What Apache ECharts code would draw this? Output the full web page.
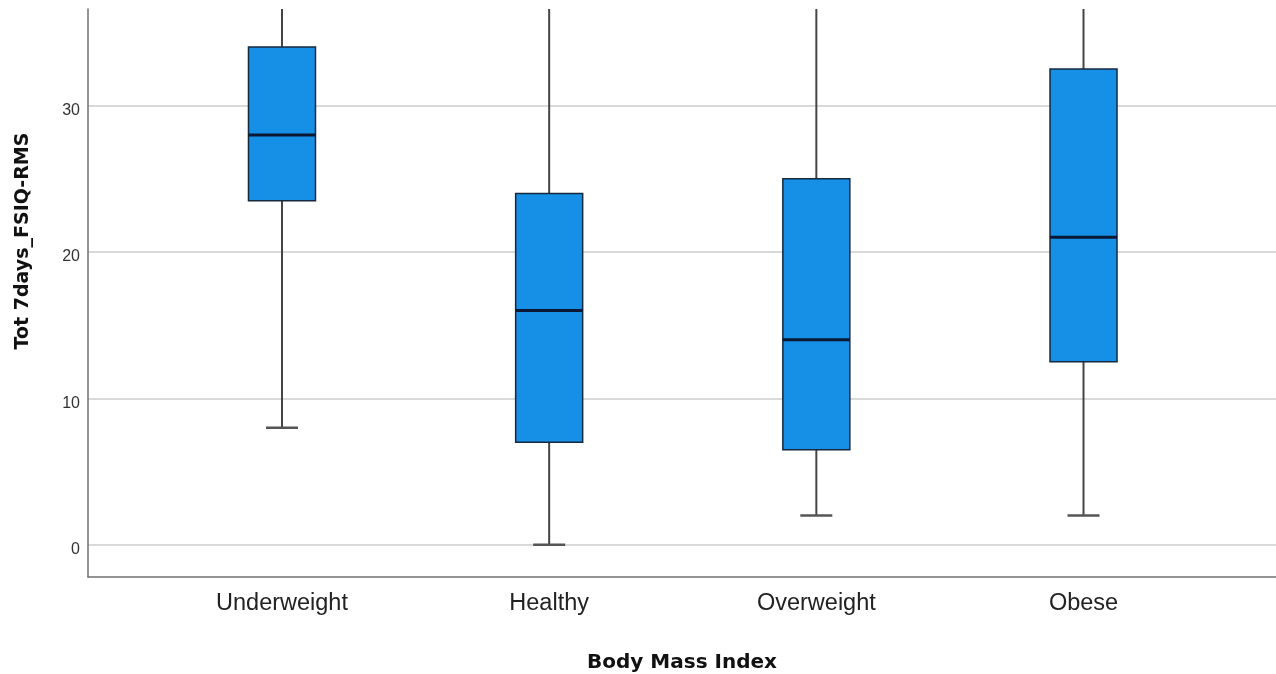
<!DOCTYPE html>
<html>
<head>
<meta charset="utf-8">
<script src="https://cdn.jsdelivr.net/npm/echarts@6/dist/echarts.min.js"></script>
<style>
  html, body { margin: 0; padding: 0; background: #fff; }
  #chart_bmi_box { width: 1276px; height: 674px; }
</style>
</head>
<body>
<div id="chart_bmi_box"></div>
<script>
  // boxplot stats (upper whiskers run past the top edge)
  const categories = ['Underweight', 'Healthy', 'Overweight', 'Obese']
  const whiskerLow = [8, 0, 2, 2]
  const q1 = [23.5, 7, 6.5, 12.5]
  const median = [28, 16, 14, 21]
  const q3 = [34, 24, 25, 32.5]
  const whiskerHigh = [40, 42, 42, 41]

  const yMin = -2.2
  const yMax = 36.6

  const boxData = categories.map((c, i) => [i, whiskerLow[i], q1[i], median[i], q3[i], whiskerHigh[i]])

  const BOX_W = 67
  const CAP_W = 32

  function renderBox(params, api) {
    const i = api.value(0)
    const cs = params.coordSys
    const top = cs.y
    const bottom = cs.y + cs.height
    const lo = api.coord([i, api.value(1)])
    const b1 = api.coord([i, api.value(2)])
    const md = api.coord([i, api.value(3)])
    const b3 = api.coord([i, api.value(4)])
    const hi = api.coord([i, api.value(5)])
    const x = lo[0]
    const hiY = Math.max(hi[1], top)
    const loY = Math.min(lo[1], bottom)
    const whisker = { stroke: '#454545', lineWidth: 2 }
    const cap = { stroke: '#555', lineWidth: 2.5 }
    const children = [
      { type: 'line', shape: { x1: x, y1: loY, x2: x, y2: b1[1] }, style: whisker },
      { type: 'line', shape: { x1: x, y1: b3[1], x2: x, y2: hiY }, style: whisker }
    ]
    if (lo[1] <= bottom) {
      children.push({ type: 'line', shape: { x1: x - CAP_W / 2, y1: lo[1], x2: x + CAP_W / 2, y2: lo[1] }, style: cap })
    }
    if (hi[1] >= top) {
      children.push({ type: 'line', shape: { x1: x - CAP_W / 2, y1: hi[1], x2: x + CAP_W / 2, y2: hi[1] }, style: cap })
    }
    children.push({
      type: 'rect',
      shape: { x: x - BOX_W / 2, y: b3[1], width: BOX_W, height: b1[1] - b3[1] },
      style: { fill: '#1590e6', stroke: '#16283c', lineWidth: 1.5 }
    })
    children.push({
      type: 'line',
      shape: { x1: x - BOX_W / 2, y1: md[1], x2: x + BOX_W / 2, y2: md[1] },
      style: { stroke: '#0b1833', lineWidth: 3 }
    })
    return { type: 'group', children: children }
  }

  const chart = echarts.init(document.getElementById('chart_bmi_box'))

  const option = {
    backgroundColor: '#fff',
    animation: false,
    grid: [
      { left: 88, right: 0, top: 9, bottom: 97, outerBoundsMode: 'none' },
      { left: 148.4, width: 1068.7, top: 9, bottom: 97, outerBoundsMode: 'none' }
    ],
    xAxis: [{
      type: 'value',
      gridIndex: 0,
      min: -0.726,
      max: 3.72,
      axisLine: { show: true, onZero: false, lineStyle: { color: '#707070', width: 1.5 } },
      axisTick: { show: false },
      axisLabel: { show: false },
      splitLine: { show: false },
      name: 'Body Mass Index',
      nameLocation: 'middle',
      nameGap: 76,
      nameTextStyle: {
        fontFamily: 'DejaVu Sans',
        fontWeight: 'bold',
        fontSize: 20,
        color: '#111'
      }
    }, {
      type: 'category',
      gridIndex: 1,
      data: categories,
      axisLine: { show: false },
      axisTick: { show: false },
      axisLabel: {
        margin: 15,
        fontFamily: 'Liberation Sans',
        fontSize: 23.5,
        color: '#222'
      },
      splitLine: { show: false }
    }],
    yAxis: [{
      type: 'value',
      gridIndex: 0,
      min: yMin,
      max: yMax,
      splitNumber: 4,
      axisLine: { show: true, onZero: false, lineStyle: { color: '#707070', width: 1.5 } },
      axisTick: { show: false },
      axisLabel: {
        showMinLabel: false,
        showMaxLabel: false,
        margin: 8,
        verticalAlign: 'top',
        lineHeight: 10,
        fontFamily: 'Liberation Sans',
        fontSize: 16,
        color: '#333'
      },
      splitLine: {
        show: true,
        showMinLine: false,
        showMaxLine: false,
        lineStyle: { color: '#cccccc', width: 1.5 }
      }
    }, {
      type: 'value',
      gridIndex: 1,
      min: yMin,
      max: yMax,
      show: false
    }],
    graphic: [{
      type: 'text',
      x: 23,
      y: 241,
      rotation: Math.PI / 2,
      style: {
        text: 'Tot 7days_FSIQ-RMS',
        fontFamily: 'DejaVu Sans',
        fontWeight: 'bold',
        fontSize: 19,
        fill: '#111',
        align: 'center',
        verticalAlign: 'middle'
      }
    }],
    series: [{
      type: 'custom',
      name: 'BMI',
      xAxisIndex: 1,
      yAxisIndex: 1,
      clip: true,
      renderItem: renderBox,
      encode: { x: 0, y: [1, 2, 3, 4, 5] },
      data: boxData
    }]
  }

  chart.setOption(option)
</script>
</body>
</html>
